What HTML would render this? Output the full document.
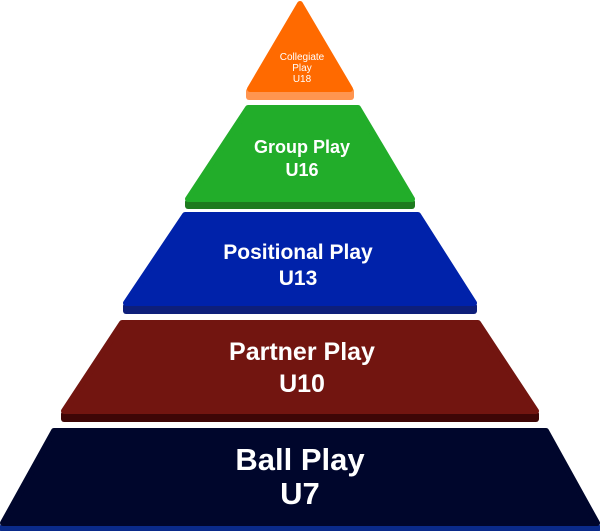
<!DOCTYPE html>
<html><head><meta charset="utf-8"><style>
html,body{margin:0;padding:0;background:#fff;width:600px;height:531px;overflow:hidden}
svg text{font-family:"Liberation Sans",sans-serif;fill:#fff;text-anchor:middle;font-weight:bold}
</style></head><body>
<svg width="600" height="531" viewBox="0 0 600 531">
<g stroke-linejoin="round" stroke-width="6">
<polygon points="249,91 351,91 351,97 249,97" fill="#ff9550" stroke="#ff9550"/>
<polygon points="300,4 350,89 250,89" fill="#ff6a00" stroke="#ff6a00"/>
<polygon points="188,202 412,202 412,206 188,206" fill="#1e7a1e" stroke="#1e7a1e"/>
<polygon points="248,108 358,108 412,199 188,199" fill="#22ad2a" stroke="#22ad2a"/>
<polygon points="126,306 474,306 474,311 126,311" fill="#0e1f7a" stroke="#0e1f7a"/>
<polygon points="185,215 418,215 474,303 126,303" fill="#0022aa" stroke="#0022aa"/>
<polygon points="64,414 536,414 536,419 64,419" fill="#3e0606" stroke="#3e0606"/>
<polygon points="122,323 478,323 536,411 64,411" fill="#721510" stroke="#721510"/>
<polygon points="3,526 597,526 597,530 3,530" fill="#0a2a8a" stroke="#0a2a8a"/>
<polygon points="54,431 546,431 597,523 3,523" fill="#00062c" stroke="#00062c"/>
</g>
<g font-weight="normal">
<text x="302" y="60" font-size="10" style="font-weight:normal">Collegiate</text>
<text x="302" y="71" font-size="10" style="font-weight:normal">Play</text>
<text x="302" y="82" font-size="10" style="font-weight:normal">U18</text>
</g>
<text x="302" y="153" font-size="18">Group Play</text>
<text x="302" y="176" font-size="18">U16</text>
<text x="298" y="259" font-size="21">Positional Play</text>
<text x="298" y="285" font-size="21">U13</text>
<text x="302" y="360" font-size="25">Partner Play</text>
<text x="302" y="392" font-size="25">U10</text>
<text x="300" y="470" font-size="31">Ball Play</text>
<text x="300" y="504" font-size="31">U7</text>
</svg>
</body></html>
